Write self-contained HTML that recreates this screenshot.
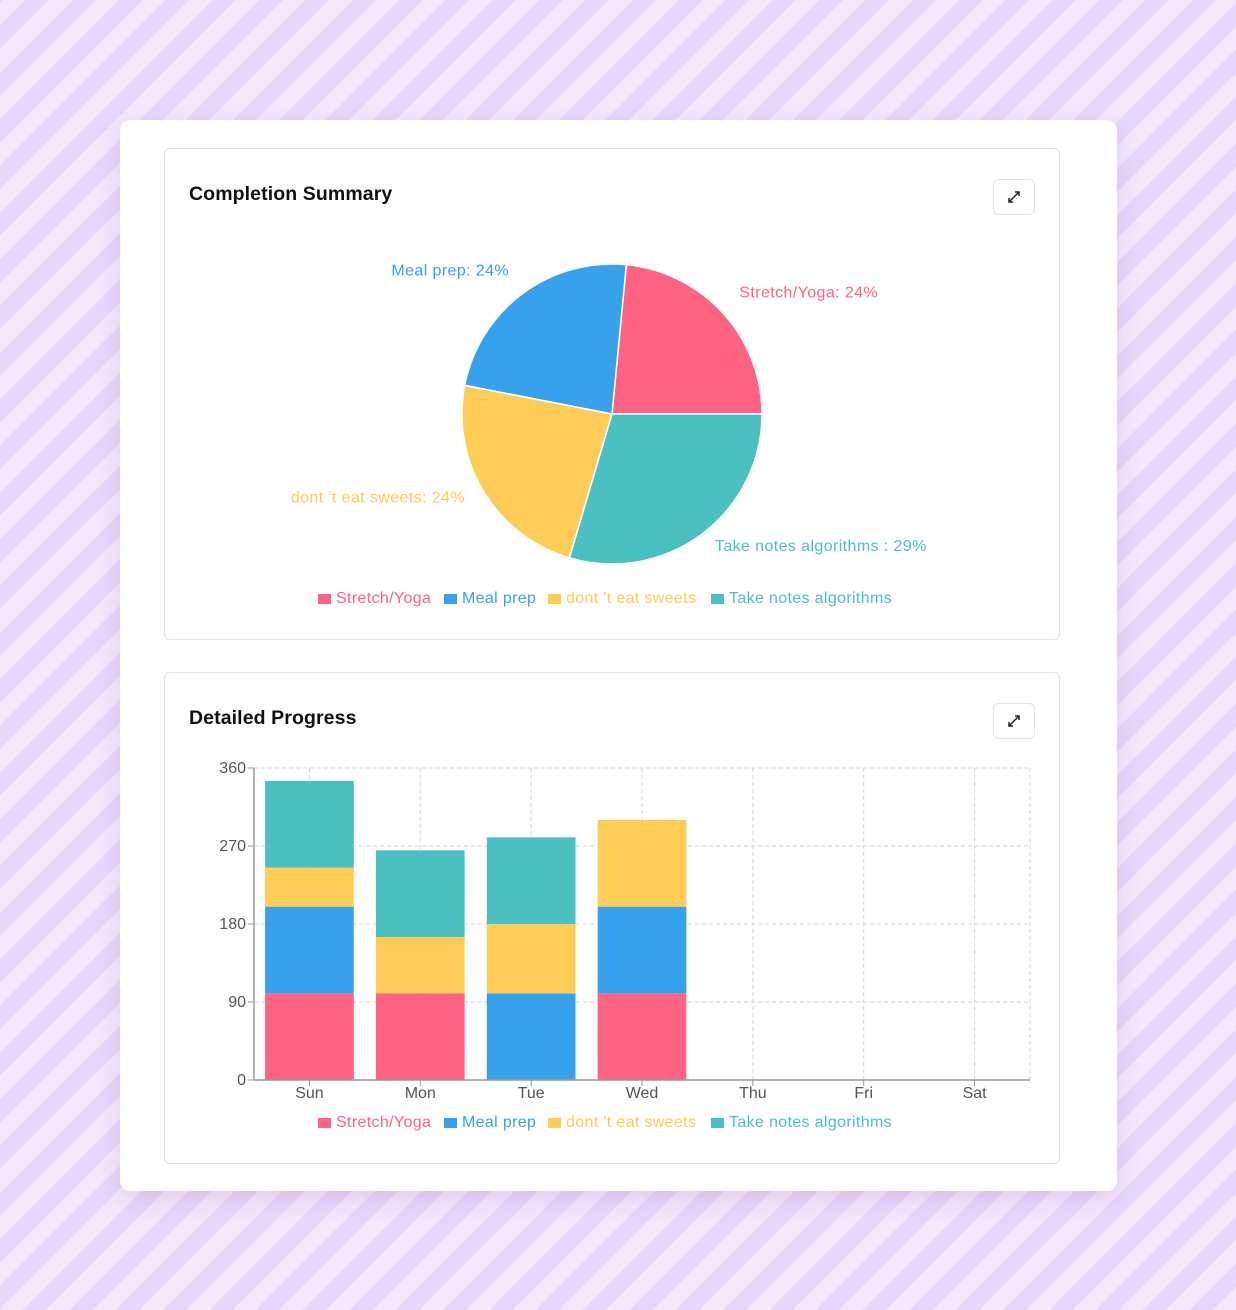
<!DOCTYPE html>
<html><head><meta charset="utf-8">
<style>
html,body{margin:0;padding:0;}
body{width:1236px;height:1310px;position:relative;overflow:hidden;font-family:"Liberation Sans",sans-serif;
background:repeating-linear-gradient(-45deg,#f3e8fe 0px,#f3e8fe 16.5px,#e8d7fc 16.5px,#e8d7fc 33px);}
.card{position:absolute;left:120px;top:120px;width:997px;height:1071px;background:#fff;border-radius:10px;box-shadow:0 8px 24px rgba(120,90,160,0.18);}
.panel{position:absolute;left:44px;width:896px;height:492px;border:1px solid #e2e4e9;border-radius:6px;box-sizing:border-box;}
.title{position:absolute;left:24px;top:34px;font-size:19.5px;font-weight:bold;color:#111;letter-spacing:0.1px;}
.btn{position:absolute;left:828px;top:30px;width:42px;height:36px;border:1px solid #e2e4e9;border-radius:6px;box-sizing:border-box;background:#fff;}
svg text{font-family:"Liberation Sans",sans-serif;}
</style></head>
<body>
<div class="card">
 <div class="panel" style="top:28px">
  <div class="title">Completion Summary</div>
  <div class="btn">
   <svg width="40" height="34" viewBox="0 0 40 34"><path d="M15 22 L25 12 M21 12 L25 12 L25 16 M15 18 L15 22 L19 22" stroke="#222" stroke-width="1.5" fill="none"/></svg>
  </div>
 </div>
 <div class="panel" style="top:552px">
  <div class="title">Detailed Progress</div>
  <div class="btn">
   <svg width="40" height="34" viewBox="0 0 40 34"><path d="M15 22 L25 12 M21 12 L25 12 L25 16 M15 18 L15 22 L19 22" stroke="#222" stroke-width="1.5" fill="none"/></svg>
  </div>
 </div>
</div>
<svg id="chart" width="1236" height="1310" style="position:absolute;left:0;top:0"></svg>
<script>
const seriesNames = ["Stretch/Yoga","Meal prep","dont 't eat sweets","Take notes algorithms"];
const pieValues = [100,100,100,126];
const pieLabels = ["Stretch/Yoga: 24%","Meal prep: 24%","dont 't eat sweets: 24%","Take notes algorithms : 29%"];
const days = ["Sun","Mon","Tue","Wed","Thu","Fri","Sat"];
const stretchVals = [100,100,0,100,0,0,0];
const mealVals = [100,0,100,100,0,0,0];
const sweetsVals = [45,65,80,100,0,0,0];
const notesVals = [100,100,100,0,0,0,0];
const yTicks = [0,90,180,270,360];

const colors = ["#ff6384","#36a2eb","#ffcd56","#4bc0c0"];
const svg = document.getElementById('chart');
const NS = "http://www.w3.org/2000/svg";
function mk(tag, attrs, parent){const e=document.createElementNS(NS,tag);for(const k in attrs)e.setAttribute(k,attrs[k]);(parent||svg).appendChild(e);return e;}

// PIE
const cx=612, cy=414, R=150;
const total = pieValues.reduce((a,b)=>a+b,0);
let a0 = 0;
pieValues.forEach((v,i)=>{
  const a1 = a0 + v/total*2*Math.PI;
  const x0=cx+R*Math.cos(a0), y0=cy-R*Math.sin(a0), x1=cx+R*Math.cos(a1), y1=cy-R*Math.sin(a1);
  const large = (a1-a0)>Math.PI?1:0;
  const p = mk('path',{d:`M${cx},${cy} L${x0},${y0} A${R},${R} 0 ${large} 0 ${x1},${y1} Z`,fill:colors[i],stroke:"#fff","stroke-width":1.5});
  
  
  const am=(a0+a1)/2, lr=172;
  const lx=cx+lr*Math.cos(am), ly=cy-lr*Math.sin(am);
  const t = mk('text',{x:lx,y:ly-5,fill:colors[i],"font-size":16,"letter-spacing":"0.4","text-anchor":Math.cos(am)>=0?"start":"end","dominant-baseline":"middle"});
  t.textContent = pieLabels[i];
  
  
  a0=a1;
});

function legend(y){
  const starts=[318,444,548,711];
  seriesNames.forEach((n,i)=>{
    const x=starts[i];
    const r=mk('rect',{x:x,y:y-5,width:13,height:10,fill:colors[i]});
    
    
    const t=mk('text',{x:x+18,y:y,fill:colors[i],"font-size":16,"letter-spacing":"0.35","dominant-baseline":"middle"});
    t.textContent=n;
    
    
  });
}
legend(599);

// BAR CHART
const X0=254, X1=1030, Y0=1080, Y1=768, yMax=360;
const band=(X1-X0)/days.length;
const yS=v=>Y0-(v/yMax)*(Y0-Y1);
const xC=i=>X0+band*(i+0.5);
yTicks.forEach(v=>{
  if(v>0){const g=mk('line',{x1:X0,x2:X1,y1:yS(v),y2:yS(v),stroke:"#d6d6d6","stroke-dasharray":"4 3"});
  
  }
  mk('line',{x1:X0-6,x2:X0,y1:yS(v),y2:yS(v),stroke:"#999"});
  const t=mk('text',{x:X0-8,y:yS(v)+1,fill:"#555","font-size":16,"text-anchor":"end","dominant-baseline":"middle"});
  t.textContent=v;
  
  
});
days.forEach((d,i)=>{
  const g=mk('line',{x1:xC(i),x2:xC(i),y1:Y1,y2:Y0,stroke:"#d6d6d6","stroke-dasharray":"4 3"});
  
  
  mk('line',{x1:xC(i),x2:xC(i),y1:Y0,y2:Y0+6,stroke:"#999"});
  const t=mk('text',{x:xC(i),y:Y0+14,fill:"#555","font-size":16,"text-anchor":"middle","dominant-baseline":"middle"});
  t.textContent=d;
  
  
});
mk('line',{x1:X1,x2:X1,y1:Y1,y2:Y0,stroke:"#d6d6d6","stroke-dasharray":"4 3"});
const series=[stretchVals,mealVals,sweetsVals,notesVals];
const bw=band*0.8;
days.forEach((d,i)=>{
  let acc=0;
  series.forEach((s,k)=>{
    const v=s[i]; if(!v) return;
    const r=mk('rect',{x:xC(i)-bw/2,y:yS(acc+v),width:bw,height:yS(acc)-yS(acc+v),fill:colors[k]});
    
    
    acc+=v;
  });
});
const ax=mk('line',{x1:X0,x2:X0,y1:Y1,y2:Y0,stroke:"#999","stroke-width":1.5});


const bx=mk('line',{x1:X0,x2:X1,y1:Y0,y2:Y0,stroke:"#999","stroke-width":1.5});


legend(1123);
</script>
</body></html>
